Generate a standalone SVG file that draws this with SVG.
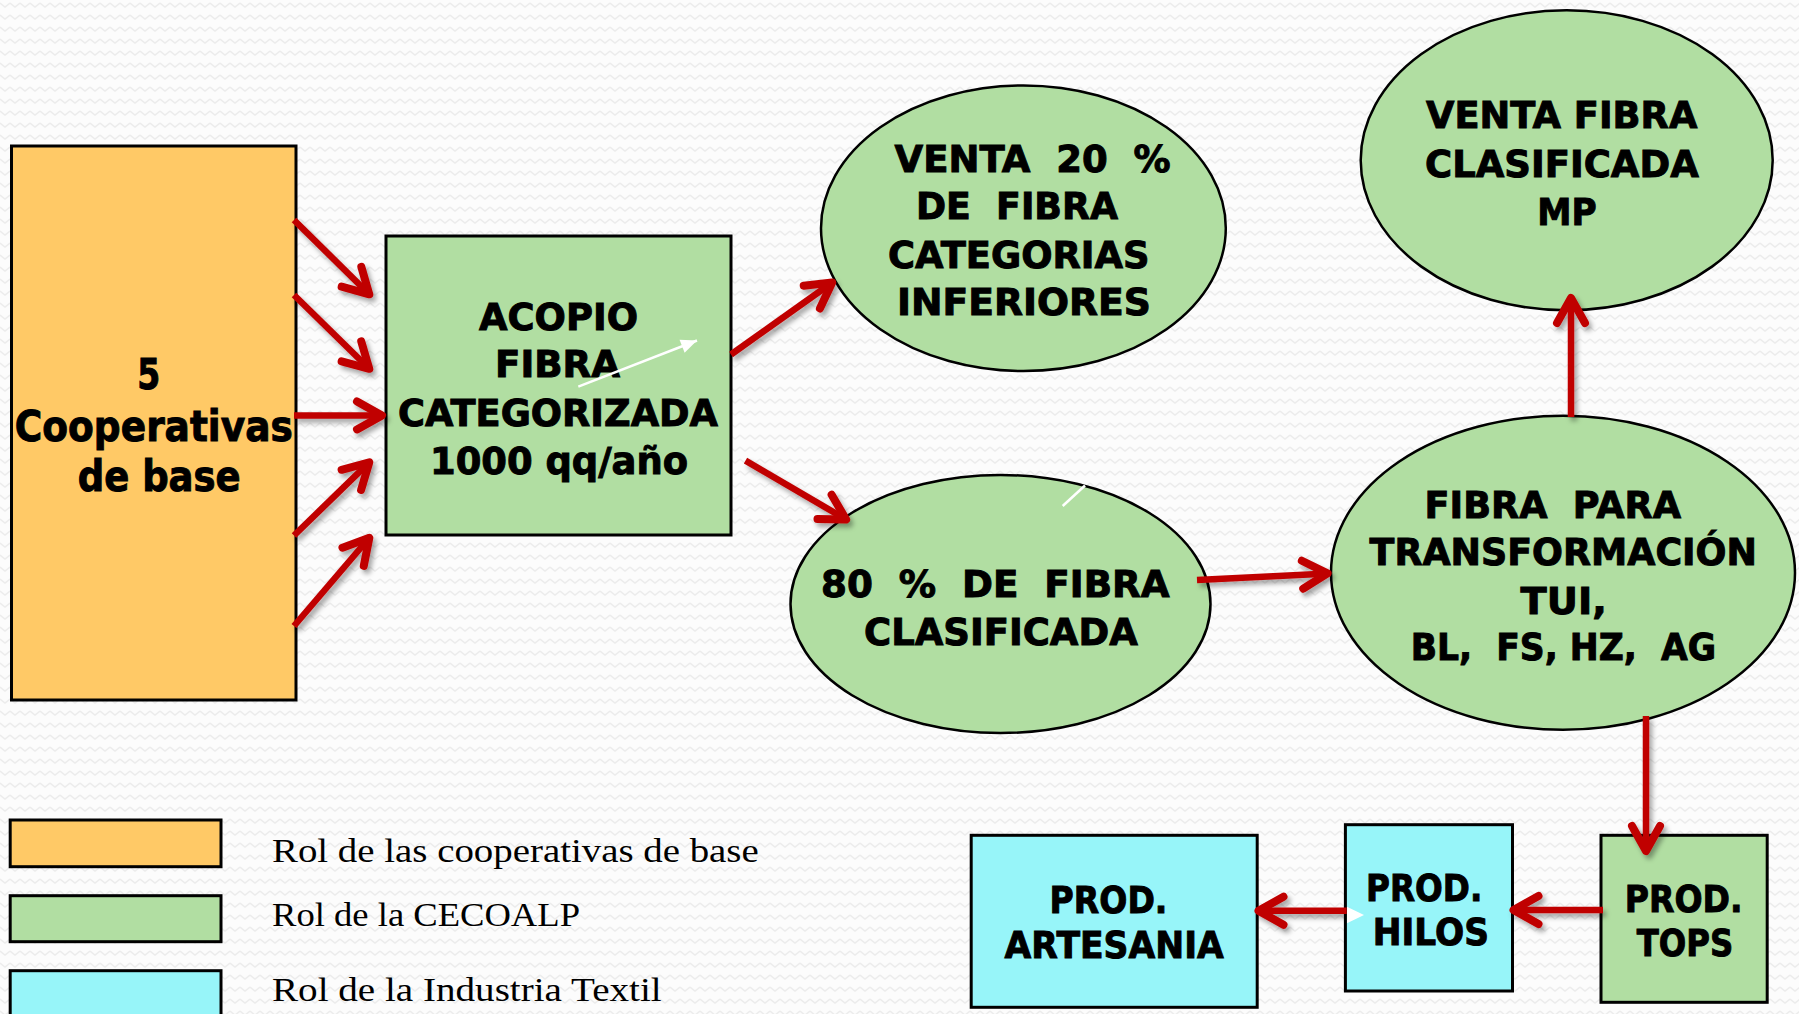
<svg xmlns="http://www.w3.org/2000/svg" width="1799" height="1014" viewBox="0 0 1799 1014">
<style>
.bg{fill:url(#zig)}
.yel{fill:#FFC966;stroke:#000;stroke-width:3}
.grn{fill:#B1DEA2;stroke:#000;stroke-width:3}
.grne{fill:#B1DEA2;stroke:#000;stroke-width:2.5}
.cyn{fill:#97F5F9;stroke:#000;stroke-width:3}
.t{font-family:"DejaVu Sans","Liberation Sans",sans-serif;font-weight:bold;fill:#000;stroke:#000;stroke-width:1;text-anchor:middle;font-size:38px}
.tb{font-size:42px}
.lg{font-family:"Liberation Serif","DejaVu Serif",serif;font-size:33px;fill:#000}
.red{fill:none;stroke:#C00000;stroke-width:6.5;marker-end:url(#ah)}
.wht{fill:none;stroke:#fff;stroke-width:2.5}
</style>
<defs>
<pattern id="zig" width="10" height="12" patternUnits="userSpaceOnUse">
<rect width="10" height="12" fill="#fcfcfc"/>
<path d="M0 3 L5 7 L10 3" fill="none" stroke="#ececec" stroke-width="1.4"/>
</pattern>
<marker id="ah" markerUnits="userSpaceOnUse" markerWidth="60" markerHeight="60" viewBox="-40 -30 60 60" refX="0" refY="0" orient="auto" overflow="visible">
<path d="M-26 -14 L-1 0 L-26 14" fill="none" stroke="#C00000" stroke-width="8" stroke-linecap="round" stroke-linejoin="round"/>
</marker>
<marker id="wh" markerUnits="userSpaceOnUse" markerWidth="30" markerHeight="30" viewBox="-20 -10 30 20" refX="0" refY="0" orient="auto" overflow="visible">
<path d="M-16 -7 L0 0 L-16 7 Z" fill="#fff"/>
</marker>
<filter id="sh" x="-20%" y="-20%" width="140%" height="140%">
<feDropShadow dx="3" dy="4" stdDeviation="2.5" flood-color="#000" flood-opacity="0.35"/>
</filter>
</defs>
<rect class="bg" x="0" y="0" width="1799" height="1014"/>

<g id="cooperativas">
<rect class="yel" x="11.5" y="146" width="284.5" height="554"/>
<text class="t tb" x="148.7" y="389" textLength="23" lengthAdjust="spacingAndGlyphs">5</text>
<text class="t tb" x="153.8" y="441" textLength="278" lengthAdjust="spacingAndGlyphs">Cooperativas</text>
<text class="t tb" x="159.2" y="491" textLength="163" lengthAdjust="spacingAndGlyphs">de base</text>
</g>

<g id="acopio">
<rect class="grn" x="386" y="236" width="345" height="299"/>
<text class="t" x="558.5" y="330" textLength="159" lengthAdjust="spacingAndGlyphs">ACOPIO</text>
<text class="t" x="557.5" y="377" textLength="125" lengthAdjust="spacingAndGlyphs">FIBRA</text>
<text class="t" x="558" y="426" textLength="320" lengthAdjust="spacingAndGlyphs">CATEGORIZADA</text>
<text class="t" x="559" y="474" textLength="258" lengthAdjust="spacingAndGlyphs">1000 qq/año</text>
</g>

<g id="venta20">
<ellipse class="grne" cx="1023.4" cy="228.2" rx="202.4" ry="142.8"/>
<text class="t" xml:space="preserve" x="1032.6" y="171.6" textLength="276" lengthAdjust="spacingAndGlyphs">VENTA  20  %</text>
<text class="t" xml:space="preserve" x="1017" y="219.4" textLength="202" lengthAdjust="spacingAndGlyphs">DE  FIBRA</text>
<text class="t" x="1018.8" y="267.6" textLength="261.6" lengthAdjust="spacingAndGlyphs">CATEGORIAS</text>
<text class="t" x="1024" y="315.3" textLength="254" lengthAdjust="spacingAndGlyphs">INFERIORES</text>
</g>

<g id="ventaMP">
<ellipse class="grne" cx="1566.7" cy="160.3" rx="206" ry="150"/>
<text class="t" x="1561.7" y="128.3" textLength="271.3" lengthAdjust="spacingAndGlyphs">VENTA FIBRA</text>
<text class="t" x="1561.9" y="176.7" textLength="273.7" lengthAdjust="spacingAndGlyphs">CLASIFICADA</text>
<text class="t" x="1567" y="225" textLength="59.4" lengthAdjust="spacingAndGlyphs">MP</text>
</g>

<g id="fibra80">
<ellipse class="grne" cx="1000.5" cy="604" rx="210" ry="129"/>
<text class="t" xml:space="preserve" x="995.3" y="596.6" textLength="348.5" lengthAdjust="spacingAndGlyphs">80  %  DE  FIBRA</text>
<text class="t" x="1000.9" y="644.8" textLength="273.7" lengthAdjust="spacingAndGlyphs">CLASIFICADA</text>
</g>

<g id="transformacion">
<ellipse class="grne" cx="1563" cy="572.7" rx="232" ry="157"/>
<text class="t" xml:space="preserve" x="1552.8" y="517.6" textLength="256.4" lengthAdjust="spacingAndGlyphs">FIBRA  PARA</text>
<text class="t" x="1563.3" y="565.3" textLength="387.4" lengthAdjust="spacingAndGlyphs">TRANSFORMACIÓN</text>
<text class="t" x="1563.7" y="613.5" textLength="86.2" lengthAdjust="spacingAndGlyphs">TUI,</text>
<text class="t" xml:space="preserve" x="1563.4" y="660.4" textLength="305.3" lengthAdjust="spacingAndGlyphs">BL,  FS, HZ,  AG</text>
</g>

<g id="artesania">
<rect class="cyn" x="971.2" y="835.3" width="286" height="172"/>
<text class="t" x="1108.5" y="913.3" textLength="117.8" lengthAdjust="spacingAndGlyphs">PROD.</text>
<text class="t" x="1114.2" y="958.3" textLength="219.2" lengthAdjust="spacingAndGlyphs">ARTESANIA</text>
</g>

<g id="hilos">
<rect class="cyn" x="1345.4" y="824.7" width="167.1" height="166.3"/>
<text class="t" x="1424.2" y="900.7" textLength="116.3" lengthAdjust="spacingAndGlyphs">PROD.</text>
<text class="t" x="1430.9" y="944.5" textLength="116.2" lengthAdjust="spacingAndGlyphs">HILOS</text>
</g>

<g id="tops">
<rect class="grn" x="1601" y="835.3" width="166.2" height="167"/>
<text class="t" x="1683.7" y="911.6" textLength="117.8" lengthAdjust="spacingAndGlyphs">PROD.</text>
<text class="t" x="1685" y="956" textLength="96.5" lengthAdjust="spacingAndGlyphs">TOPS</text>
</g>

<g id="connectors">
<g filter="url(#sh)">
<path class="red" d="M294 220 L370 295"/>
<path class="red" d="M294 295 L370 369.5"/>
<path class="red" d="M294 415.4 L383 415.4"/>
<path class="red" d="M294 535.5 L370 461.7"/>
<path class="red" d="M294 626 L370 537"/>
<path class="red" d="M731 354.5 L833 282"/>
<path class="red" d="M745.5 460.6 L847 520"/>
<path class="red" d="M1197 580 L1328.5 573.4"/>
<path class="red" d="M1571 417 L1571 297"/>
<path class="red" d="M1646 716 L1646 852"/>
<path class="red" d="M1603 910 L1512.5 910"/>
<path class="red" d="M1346.7 910.7 L1257.5 910.7"/>
</g>
<path class="wht" d="M578.3 386.7 L697 340.5" marker-end="url(#wh)"/>
<path class="wht" d="M1062.7 506 L1085 485.5"/>
<polygon points="1347,906.7 1364,915 1347,923.3" fill="#fff"/>
</g>

<g id="legend">
<rect class="yel" x="10.2" y="820" width="210.8" height="46.7"/>
<rect class="grn" x="10.2" y="895.7" width="210.8" height="46"/>
<rect class="cyn" x="10.2" y="970.7" width="210.8" height="50"/>
<text class="lg" x="272" y="861.7" textLength="486.7" lengthAdjust="spacingAndGlyphs">Rol de las cooperativas de base</text>
<text class="lg" x="272" y="925.7" textLength="308" lengthAdjust="spacingAndGlyphs">Rol de la CECOALP</text>
<text class="lg" x="272" y="1000.7" textLength="389.7" lengthAdjust="spacingAndGlyphs">Rol de la Industria Textil</text>
</g>
</svg>
